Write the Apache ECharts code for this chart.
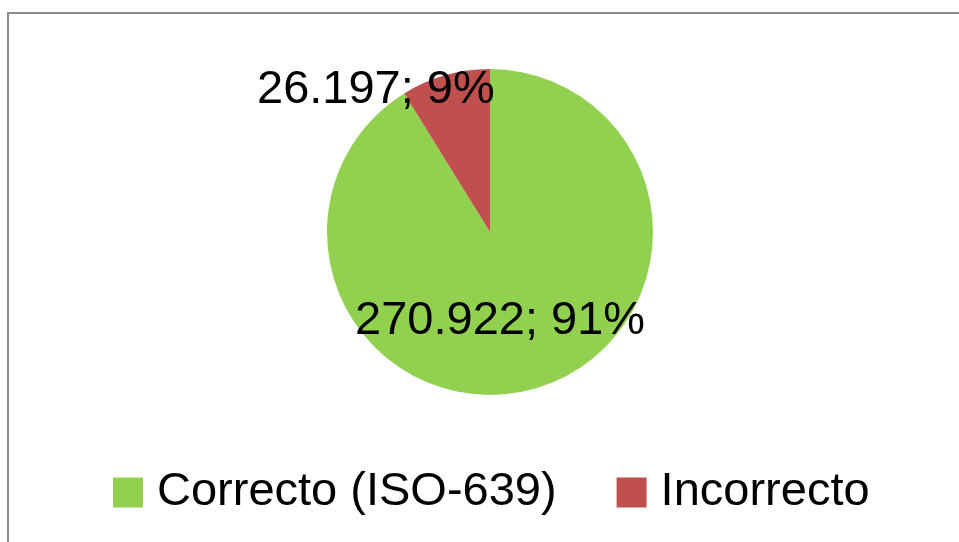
<!DOCTYPE html>
<html lang="es">
<head>
    <meta charset="UTF-8">
    <title>Correcto vs Incorrecto</title>
    <script src="https://cdn.jsdelivr.net/npm/echarts@6/dist/echarts.min.js"></script>
    <style>
        html, body {
            margin: 0;
            padding: 0;
            background: #ffffff;
        }
        #chart {
            width: 959px;
            height: 542px;
        }
        /* marco gris del área del gráfico (se sale por la derecha y abajo) */
        .frame {
            position: absolute;
            left: 7px;
            top: 12px;
            width: 1000px;
            height: 600px;
            border: 2px solid #8c8c8c;
            pointer-events: none;
        }
    </style>
</head>
<body>
    <div class="frame"></div>
    <div id="chart"></div>

    <script>
        // datos
        const categories = ['Correcto (ISO-639)', 'Incorrecto'];
        const values = [270922, 26197];
        const colors = ['#92D050', '#C0504D'];

        // 270922 -> "270.922"
        function fmtNum(n) {
            return String(n).replace(/\B(?=(\d{3})+(?!\d))/g, '.');
        }

        const chart = echarts.init(document.getElementById('chart'));

        const option = {
            animation: false,
            textStyle: { fontFamily: 'Liberation Sans' },
            legend: {
                data: categories,
                left: 108,
                top: 464,
                orient: 'horizontal',
                icon: 'rect',
                itemWidth: 30,
                itemHeight: 30,
                itemGap: 60,
                textStyle: {
                    fontSize: 47,
                    color: '#000',
                    padding: [0, 0, 0, 9]
                }
            },
            series: [{
                type: 'pie',
                center: [490, 232],
                radius: 163,
                startAngle: 90,
                clockwise: true,
                percentPrecision: 0,
                itemStyle: { borderWidth: 0 },
                label: {
                    show: true,
                    position: 'inside',
                    fontSize: 47,
                    color: '#000',
                    formatter: p => fmtNum(p.value) + '; ' + p.percent + '%'
                },
                labelLayout: function (params) {
                    // desplazamiento aproximado como en Excel
                    if (params.dataIndex === 1) return { dx: -91, dy: -61 };
                    return { dx: -13, dy: 8 };
                },
                data: categories.map((c, i) => ({
                    name: c,
                    value: values[i],
                    itemStyle: { color: colors[i] }
                }))
            }]
        };
        chart.setOption(option);
    </script>
</body>
</html>
